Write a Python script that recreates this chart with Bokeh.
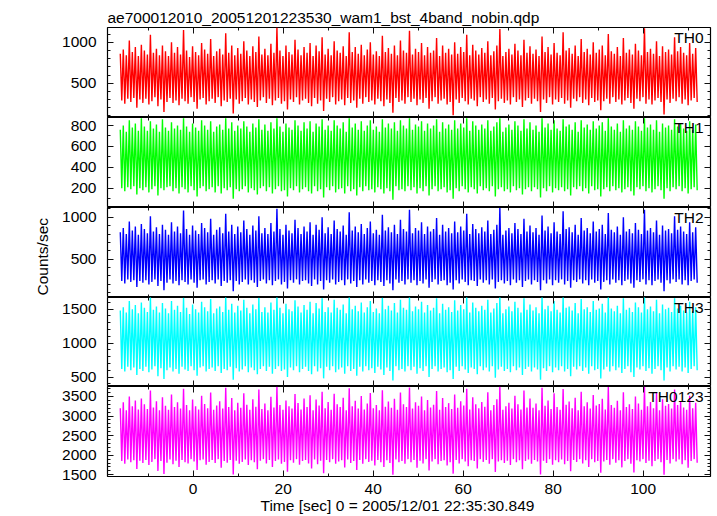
import numpy as np
from bokeh.plotting import figure
from bokeh.models import Range1d, LinearAxis, SingleIntervalTicker, Label, Title
from bokeh.layouts import column
from bokeh.embed import file_html
from bokeh.resources import INLINE

# ---------------- data (count rates) ----------------
t_start = -16.2
t_end = 112.0

th0 = [
    860, 290, 910, 250, 840, 310, 1020, 270, 880, 320, 940, 200, 830, 300, 970, 260,
    900, 310, 850, 240, 1090, 280, 870, 330, 920, 220, 840, 300, 960, 150, 890, 270,
    830, 320, 1000, 260, 870, 290, 940, 230, 850, 310, 1150, 280, 900, 250, 820, 330,
    950, 270, 880, 190, 840, 300, 990, 320, 910, 240, 860, 280, 1040, 310, 830, 260,
    890, 330, 920, 220, 850, 290, 1110, 270, 870, 310, 960, 130, 840, 300, 930, 250,
    860, 280, 1010, 320, 900, 240, 830, 300, 950, 270, 880, 210, 1070, 290, 850, 330,
    920, 260, 840, 310, 980, 230, 870, 290, 1180, 320, 900, 250, 830, 280, 960, 180,
    880, 300, 850, 270, 1030, 330, 910, 240, 840, 290, 940, 310, 870, 260, 990, 220,
    830, 320, 960, 250, 890, 290, 1060, 160, 850, 310, 920, 270, 840, 330, 1010, 240,
    900, 280, 870, 300, 950, 230, 830, 320, 1120, 260, 880, 290, 940, 200, 860, 310,
    970, 250, 840, 330, 910, 270, 1000, 290, 850, 240, 890, 310, 830, 280, 1080, 220,
    880, 300, 930, 260, 860, 140, 960, 320, 840, 270, 1020, 290, 900, 250, 870, 330,
    1140, 270, 850, 310, 920, 230, 880, 300, 990, 260, 840, 320, 940, 190, 870, 280,
    900, 330, 1050, 250, 830, 290, 960, 310, 870, 240, 920, 270, 850, 110, 1000, 300,
    860, 260, 940, 320, 880, 280, 1090, 240, 840, 310, 970, 290, 900, 220, 850, 330,
    930, 270, 870, 300, 1010, 250, 840, 320, 890, 180, 960, 280, 1160, 310, 830, 260,
    880, 290, 920, 240, 850, 330, 980, 270, 900, 300, 840, 210, 1030, 290, 870, 320,
    950, 250, 860, 310, 910, 280, 830, 150, 1070, 300, 880, 260, 940, 330, 850, 240,
    990, 300, 870, 270, 840, 320, 1120, 250, 900, 290, 930, 200, 860, 310, 960, 280,
    830, 330, 1040, 260, 880, 300, 920, 230, 850, 320, 1000, 270, 870, 290, 910, 170,
    960, 280, 840, 310, 1100, 250, 890, 330, 860, 270, 940, 300, 830, 240, 1050, 290,
    870, 320, 910, 260, 850, 190, 980, 310, 900, 280, 840, 330, 1170, 250, 880, 300,
    920, 240, 860, 290, 1010, 320, 830, 270, 950, 120, 880, 300, 910, 260, 850, 310,
    1060, 280, 890, 330, 940, 250, 870, 300, 840, 230, 990, 290, 860, 320, 930, 270,
]

th1 = [
    760, 200, 800, 170, 740, 210, 850, 190, 780, 220, 820, 140, 750, 200, 870, 180,
    790, 210, 750, 160, 840, 190, 770, 220, 810, 130, 740, 200, 860, 180, 780, 210,
    750, 220, 830, 170, 770, 200, 800, 150, 760, 210, 870, 190, 790, 160, 740, 220,
    820, 180, 780, 120, 750, 200, 850, 220, 800, 170, 760, 190, 840, 210, 740, 160,
    790, 220, 810, 150, 760, 200, 870, 180, 770, 210, 830, 100, 750, 190, 800, 170,
    770, 190, 840, 220, 790, 160, 740, 200, 820, 180, 780, 140, 860, 200, 760, 220,
    810, 170, 750, 210, 830, 150, 770, 190, 870, 220, 790, 170, 740, 180, 820, 120,
    780, 200, 760, 180, 850, 220, 800, 160, 750, 190, 830, 210, 770, 170, 840, 150,
    740, 220, 820, 170, 790, 190, 860, 110, 760, 210, 800, 180, 750, 220, 850, 160,
    800, 190, 770, 200, 830, 150, 740, 220, 870, 170, 780, 190, 820, 130, 760, 210,
    840, 170, 750, 220, 800, 180, 850, 190, 760, 160, 790, 210, 740, 190, 860, 150,
    780, 200, 820, 170, 770, 90, 830, 220, 750, 180, 850, 190, 800, 170, 770, 220,
    870, 180, 760, 210, 810, 150, 790, 200, 840, 170, 750, 220, 820, 130, 770, 190,
    800, 220, 860, 170, 740, 190, 830, 210, 770, 160, 810, 180, 760, 100, 850, 200,
    770, 170, 820, 220, 780, 190, 870, 160, 750, 210, 840, 190, 800, 150, 760, 220,
    810, 180, 770, 200, 850, 170, 750, 220, 790, 120, 830, 190, 870, 210, 740, 170,
    780, 190, 810, 160, 760, 220, 840, 180, 800, 200, 750, 140, 860, 190, 770, 210,
    830, 170, 760, 210, 800, 190, 740, 110, 870, 200, 780, 170, 820, 220, 760, 160,
    850, 200, 770, 180, 750, 210, 860, 170, 790, 190, 810, 130, 760, 210, 830, 190,
    740, 220, 850, 170, 780, 200, 810, 150, 760, 220, 840, 180, 770, 190, 800, 120,
    830, 190, 750, 210, 870, 170, 790, 220, 760, 180, 820, 200, 740, 160, 850, 190,
    770, 210, 800, 170, 760, 130, 840, 210, 790, 190, 750, 220, 870, 170, 780, 200,
    810, 160, 760, 190, 850, 220, 740, 180, 820, 100, 780, 200, 800, 170, 760, 210,
    860, 190, 790, 220, 820, 170, 770, 200, 750, 150, 840, 190, 760, 210, 810, 180,
]

th2 = [
    820, 240, 870, 210, 800, 260, 950, 230, 840, 250, 890, 170, 790, 240, 920, 220,
    860, 250, 810, 200, 1010, 230, 830, 260, 880, 180, 800, 240, 910, 130, 850, 220,
    790, 260, 940, 210, 830, 240, 890, 190, 810, 250, 1080, 230, 860, 200, 790, 260,
    900, 220, 840, 160, 800, 250, 930, 260, 870, 200, 820, 230, 980, 250, 790, 210,
    850, 260, 880, 180, 810, 240, 1040, 220, 830, 250, 910, 120, 800, 240, 890, 200,
    820, 230, 960, 260, 860, 200, 790, 250, 900, 220, 840, 170, 1010, 240, 810, 260,
    870, 210, 800, 250, 930, 190, 830, 240, 1100, 260, 860, 200, 790, 230, 910, 150,
    840, 250, 810, 220, 970, 260, 870, 200, 800, 240, 890, 250, 830, 210, 940, 180,
    790, 260, 910, 200, 850, 240, 1000, 140, 810, 250, 880, 220, 800, 260, 960, 200,
    860, 230, 830, 250, 900, 190, 790, 260, 1060, 210, 840, 240, 890, 170, 820, 250,
    920, 200, 800, 260, 870, 220, 950, 240, 810, 190, 850, 250, 790, 230, 1030, 180,
    840, 250, 880, 210, 820, 130, 910, 260, 800, 220, 970, 240, 860, 200, 830, 260,
    1090, 220, 810, 250, 870, 190, 840, 240, 940, 210, 800, 260, 890, 160, 830, 230,
    860, 260, 990, 200, 790, 240, 910, 250, 830, 190, 870, 220, 810, 140, 950, 250,
    820, 210, 890, 260, 840, 230, 1040, 190, 800, 250, 920, 240, 860, 180, 810, 260,
    880, 220, 830, 250, 960, 200, 800, 260, 850, 150, 910, 230, 1110, 250, 790, 210,
    840, 240, 870, 190, 810, 260, 930, 220, 860, 250, 800, 170, 980, 240, 830, 260,
    900, 200, 820, 250, 870, 230, 790, 130, 1020, 250, 840, 210, 890, 260, 810, 190,
    940, 250, 830, 220, 800, 260, 1070, 200, 860, 240, 880, 160, 820, 250, 910, 230,
    790, 260, 990, 210, 840, 250, 870, 190, 810, 260, 950, 220, 830, 240, 860, 140,
    910, 230, 800, 250, 1050, 200, 850, 260, 820, 220, 890, 250, 790, 190, 1000, 240,
    830, 260, 860, 210, 810, 160, 930, 250, 850, 230, 800, 260, 1090, 200, 840, 250,
    870, 190, 820, 240, 960, 260, 790, 220, 900, 120, 840, 250, 860, 210, 810, 260,
    1010, 230, 850, 260, 890, 200, 830, 250, 800, 190, 940, 240, 820, 260, 880, 220,
]

th3 = [
    1480, 620, 1530, 580, 1450, 650, 1620, 600, 1500, 640, 1560, 530, 1440, 620, 1600, 590,
    1520, 650, 1460, 570, 1680, 610, 1490, 660, 1540, 510, 1450, 630, 1590, 470, 1510, 600,
    1440, 640, 1620, 580, 1490, 620, 1550, 550, 1460, 650, 1670, 610, 1520, 590, 1430, 660,
    1570, 600, 1500, 520, 1450, 640, 1610, 660, 1530, 580, 1470, 620, 1650, 640, 1440, 590,
    1510, 660, 1540, 560, 1460, 620, 1680, 600, 1490, 650, 1580, 460, 1450, 630, 1550, 580,
    1480, 610, 1640, 660, 1520, 570, 1440, 640, 1570, 600, 1500, 540, 1670, 620, 1460, 660,
    1530, 590, 1450, 650, 1600, 550, 1490, 620, 1680, 660, 1520, 590, 1440, 610, 1580, 500,
    1500, 640, 1470, 600, 1630, 660, 1540, 570, 1450, 620, 1560, 650, 1490, 590, 1610, 540,
    1440, 660, 1590, 580, 1510, 630, 1660, 480, 1460, 650, 1530, 600, 1450, 660, 1640, 570,
    1520, 610, 1490, 640, 1570, 550, 1440, 660, 1680, 590, 1500, 620, 1550, 520, 1470, 650,
    1600, 580, 1450, 660, 1530, 600, 1620, 630, 1460, 560, 1510, 650, 1440, 610, 1670, 530,
    1500, 640, 1550, 590, 1480, 450, 1590, 660, 1450, 600, 1640, 620, 1520, 580, 1490, 660,
    1680, 600, 1470, 650, 1540, 550, 1500, 630, 1610, 590, 1450, 660, 1560, 500, 1480, 620,
    1520, 660, 1660, 580, 1440, 620, 1580, 640, 1490, 570, 1530, 600, 1460, 470, 1630, 650,
    1480, 590, 1560, 660, 1500, 610, 1680, 560, 1450, 640, 1600, 620, 1520, 540, 1470, 660,
    1550, 600, 1490, 640, 1640, 580, 1450, 660, 1510, 490, 1590, 610, 1680, 650, 1440, 590,
    1500, 620, 1540, 570, 1470, 660, 1610, 600, 1520, 640, 1450, 530, 1660, 620, 1490, 650,
    1570, 580, 1480, 640, 1530, 610, 1440, 460, 1680, 630, 1500, 590, 1550, 660, 1470, 570,
    1620, 640, 1490, 600, 1450, 660, 1680, 580, 1520, 620, 1540, 510, 1480, 650, 1590, 610,
    1440, 660, 1650, 590, 1500, 640, 1530, 550, 1460, 660, 1620, 600, 1490, 620, 1510, 480,
    1580, 610, 1450, 650, 1680, 580, 1510, 660, 1470, 600, 1550, 640, 1440, 560, 1660, 620,
    1490, 660, 1520, 570, 1460, 500, 1600, 640, 1530, 610, 1450, 660, 1680, 590, 1500, 630,
    1540, 550, 1470, 620, 1640, 660, 1440, 600, 1570, 450, 1500, 640, 1520, 580, 1460, 660,
    1660, 610, 1510, 650, 1550, 580, 1480, 640, 1450, 560, 1610, 620, 1470, 660, 1530, 600,
]

th0123 = [
    3200, 1850, 3350, 1780, 3150, 1890, 3500, 1820, 3250, 1870, 3400, 1650, 3170, 1860, 3450, 1800,
    3300, 1880, 3180, 1750, 3650, 1830, 3220, 1900, 3380, 1600, 3150, 1850, 3480, 1520, 3260, 1810,
    3160, 1890, 3550, 1770, 3230, 1860, 3350, 1700, 3190, 1880, 3700, 1820, 3280, 1790, 3150, 1900,
    3420, 1840, 3250, 1620, 3170, 1870, 3520, 1890, 3310, 1760, 3200, 1830, 3600, 1880, 3160, 1800,
    3270, 1900, 3380, 1680, 3190, 1850, 3720, 1810, 3230, 1880, 3460, 1510, 3150, 1860, 3340, 1780,
    3210, 1830, 3580, 1890, 3290, 1750, 3160, 1870, 3430, 1820, 3240, 1640, 3680, 1860, 3180, 1900,
    3320, 1790, 3150, 1880, 3490, 1700, 3220, 1850, 3750, 1890, 3280, 1780, 3160, 1830, 3400, 1580,
    3250, 1870, 3190, 1810, 3560, 1900, 3330, 1760, 3170, 1850, 3450, 1880, 3230, 1790, 3530, 1660,
    3150, 1890, 3420, 1770, 3270, 1860, 3620, 1540, 3200, 1880, 3360, 1820, 3160, 1900, 3570, 1780,
    3300, 1840, 3230, 1870, 3470, 1690, 3150, 1890, 3710, 1800, 3250, 1850, 3390, 1620, 3190, 1880,
    3510, 1780, 3170, 1900, 3320, 1830, 3590, 1860, 3200, 1740, 3280, 1880, 3150, 1820, 3660, 1700,
    3240, 1870, 3370, 1800, 3210, 1500, 3440, 1890, 3160, 1820, 3600, 1850, 3300, 1780, 3230, 1900,
    3730, 1820, 3190, 1880, 3350, 1680, 3260, 1860, 3500, 1790, 3150, 1900, 3410, 1610, 3220, 1840,
    3290, 1900, 3640, 1770, 3160, 1850, 3460, 1870, 3230, 1740, 3330, 1820, 3180, 1530, 3550, 1880,
    3210, 1790, 3380, 1900, 3270, 1840, 3700, 1720, 3170, 1870, 3480, 1850, 3300, 1660, 3200, 1900,
    3360, 1830, 3240, 1880, 3610, 1780, 3150, 1900, 3280, 1570, 3430, 1840, 3750, 1870, 3160, 1800,
    3250, 1860, 3340, 1750, 3190, 1900, 3520, 1820, 3300, 1870, 3170, 1640, 3650, 1850, 3220, 1890,
    3450, 1780, 3210, 1880, 3320, 1840, 3150, 1510, 3720, 1860, 3260, 1800, 3400, 1900, 3180, 1760,
    3580, 1870, 3230, 1820, 3160, 1890, 3690, 1770, 3290, 1850, 3370, 1590, 3200, 1880, 3470, 1830,
    3150, 1900, 3620, 1790, 3250, 1870, 3350, 1700, 3190, 1900, 3540, 1820, 3270, 1850, 3310, 1550,
    3440, 1840, 3170, 1880, 3740, 1760, 3280, 1900, 3210, 1810, 3390, 1870, 3150, 1690, 3610, 1850,
    3230, 1900, 3300, 1780, 3180, 1560, 3500, 1870, 3320, 1840, 3160, 1900, 3750, 1800, 3250, 1860,
    3360, 1720, 3200, 1850, 3590, 1900, 3150, 1820, 3430, 1500, 3260, 1880, 3310, 1790, 3190, 1900,
    3680, 1840, 3280, 1890, 3380, 1770, 3220, 1870, 3160, 1680, 3520, 1850, 3200, 1900, 3340, 1810,
]

series = [th0, th1, th2, th3, th0123]
series_names = ["TH0", "TH1", "TH2", "TH3", "TH0123"]
y_tick_interval = [500, 200, 500, 500, 500]
y_minor_count = [5, 2, 5, 5, 5]
x_tick_interval = 20
title_text = "ae700012010_20051201223530_wam1_bst_4band_nobin.qdp"
x_label_text = "Time [sec] 0 = 2005/12/01 22:35:30.849"
y_label_text = "Counts/sec"

# ---------------- layout / style ----------------
colors = ["#ff0000", "#00ff00", "#0000ff", "#00ffff", "#ff00ff"]
FONT = "Liberation Sans"
FS = "15.5px"
W = 717
BORDER_L = 107
BORDER_R = 7
FRAME_W = W - BORDER_L - BORDER_R
frame_h = [90, 90, 90, 89, 90]
top_border = 27
bottom_border = 40
ylims = [(81.7, 1179.3), (15.3, 876.6), (44.0, 1115.5), (360.0, 1672.3), (1456.6, 3755.0)]
XMIN, XMAX = -19.04, 114.96

frame_tops = []
acc = top_border
for h in frame_h:
    frame_tops.append(acc)
    acc += h


def data_x(page_x):
    return XMIN + (page_x - BORDER_L) * (XMAX - XMIN) / FRAME_W


def data_y(i, page_y):
    y0, y1 = ylims[i]
    return y1 - (page_y - frame_tops[i]) * (y1 - y0) / frame_h[i]


def style_axis(ax, show_labels):
    ax.axis_line_color = None
    ax.major_tick_in = 6
    ax.major_tick_out = 0
    ax.minor_tick_in = 3
    ax.minor_tick_out = 0
    ax.major_tick_line_color = "#111111"
    ax.minor_tick_line_color = "#111111"
    ax.major_tick_line_width = 1
    ax.minor_tick_line_width = 1
    if show_labels:
        ax.major_label_text_font = FONT
        ax.major_label_text_font_size = FS
        ax.major_label_text_color = "black"
    else:
        ax.major_label_text_font_size = "0px"
        ax.major_label_text_color = None
        ax.major_label_text_alpha = 0
        ax.major_label_standoff = 0


xr = Range1d(XMIN, XMAX)
figs = []
for i, vals in enumerate(series):
    t = np.linspace(t_start, t_end, len(vals))
    h = frame_h[i] + (top_border if i == 0 else 0) + (bottom_border if i == 4 else 0)
    p = figure(width=W, height=h, x_range=xr, y_range=Range1d(*ylims[i]), title=None,
               output_backend="svg", toolbar_location=None,
               min_border_left=BORDER_L, min_border_right=BORDER_R,
               min_border_top=top_border if i == 0 else 0,
               min_border_bottom=bottom_border if i == 4 else 0)
    p.xgrid.visible = False
    p.ygrid.visible = False
    p.outline_line_color = "black"
    p.outline_line_width = 1.2
    p.background_fill_color = "white"
    p.border_fill_color = "white"

    p.line(t, vals, line_color=colors[i], line_width=1.4)

    # x axes: below (labels only on bottom panel) and above
    xb = p.xaxis[0]
    xb.ticker = SingleIntervalTicker(interval=x_tick_interval, num_minor_ticks=2)
    style_axis(xb, i == 4)
    if i == 4:
        xb.major_label_standoff = 7
    xa = LinearAxis(ticker=SingleIntervalTicker(interval=x_tick_interval, num_minor_ticks=2))
    style_axis(xa, False)
    p.add_layout(xa, "above")

    # y axes: left with labels, right ticks only
    yl = p.yaxis[0]
    yl.ticker = SingleIntervalTicker(interval=y_tick_interval[i], num_minor_ticks=y_minor_count[i])
    style_axis(yl, True)
    yl.major_label_standoff = 11
    yrax = LinearAxis(ticker=SingleIntervalTicker(interval=y_tick_interval[i], num_minor_ticks=y_minor_count[i]))
    style_axis(yrax, False)
    p.add_layout(yrax, "right")

    # panel name
    p.add_layout(Label(x=data_x(703.0), y=data_y(i, frame_tops[i] + 9.5), text=series_names[i],
                       text_align="right", text_baseline="alphabetic",
                       text_font=FONT, text_font_size=FS, text_color="black"))

    if i == 0:
        p.add_layout(Title(text=title_text, align="left", standoff=3,
                           text_font=FONT, text_font_size=FS, text_font_style="normal",
                           text_color="black"), "above")
    if i == 2:
        p.add_layout(Title(text=y_label_text, align="left", offset=2, standoff=17,
                           text_font=FONT, text_font_size=FS, text_font_style="normal",
                           text_color="black"), "left")
    if i == 4:
        p.add_layout(Title(text=x_label_text, align="left", offset=153, standoff=-3,
                           text_font=FONT, text_font_size=FS, text_font_style="normal",
                           text_color="black"), "below")
    figs.append(p)

layout = column(*figs, spacing=0)
open("out.html", "w").write(file_html(layout, INLINE))
